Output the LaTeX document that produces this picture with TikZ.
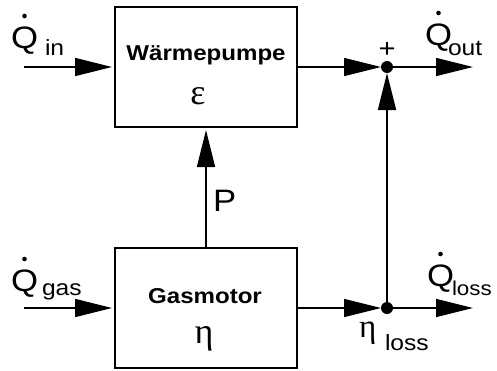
\documentclass[tikz,border=0pt]{standalone}
\usepackage{fontspec}
\setmainfont{Liberation Sans}[FakeStretch=1.12]
\newfontfamily\grk{Liberation Serif}
\usetikzlibrary{arrows.meta,calc}
\begin{document}
\begin{tikzpicture}[x=1pt,y=-1pt,
  every node/.style={inner sep=0pt, outer sep=0pt},
  box/.style={draw, line width=1.6pt, minimum width=182pt, minimum height=120pt},
  flow/.style={line width=1.6pt, -{Triangle[length=37pt,width=18pt]}},
  junc/.style={circle, fill, minimum size=12pt},
  big/.style={font=\fontsize{31}{33}\selectfont},
  sub/.style={font=\fontsize{22}{24}\selectfont},
  subsm/.style={font=\fontsize{20}{22}\selectfont},
  plussign/.style={font=\fontsize{26}{28}\selectfont},
  title/.style={font=\fontsize{21.5}{23}\selectfont\bfseries},
  greek/.style={font=\fontsize{36}{38}\selectfont\grk},
  greeksm/.style={font=\fontsize{33}{35}\selectfont\grk},
  qdot/.style={fill}
]
\useasboundingbox (0,0) rectangle (497,370);
% boxes
\node[box] (wp) at (206,67) {};
\node[box] (gm) at (206,308) {};
\node[title, anchor=base] (wpt) at (206,60) {Wärmepumpe};
\node[greek, anchor=base] (eps) at (198,104) {ε};
\node[title, anchor=base] (gmt) at (205,303) {Gasmotor};
\node[greek, anchor=base] (eta) at (204,343) {η};
% junctions
\node[junc] (j1) at (387,67) {};
\node[junc] (j2) at (387,308) {};
% free ends
\coordinate (in1) at (24,67);
\coordinate (in2) at (24,308);
\coordinate (o1) at (473,67);
\coordinate (o2) at (473,308);
% connectors
\draw[flow, shorten >=3pt] (in1) -- (wp.west);
\draw[flow, shorten >=3pt] (in2) -- (gm.west);
\draw[flow, shorten >=3pt] (gm.north) -- (wp.south);
\draw[flow] (wp.east) -- (j1);
\draw[flow] (gm.east) -- (j2);
\draw[flow] (j2) -- (j1);
\draw[flow] (j1) -- (o1);
\draw[flow] (j2) -- (o2);
% labels
\node[big, anchor=base west] (qin) at (11,48) {Q};
\node[sub, anchor=base west] (qins) at (45,55) {in};
\node[big, anchor=base west] (qgas) at (11,291) {Q};
\node[sub, anchor=base west] (qgass) at (42,295) {gas};
\node[big, anchor=base west] (qout) at (425,45) {Q};
\node[sub, anchor=base west] (qouts) at (448,55) {out};
\node[big, anchor=base west] (qloss) at (427,286) {Q};
\node[subsm, anchor=base west] (qlosss) at (452,295) {loss};
\fill[qdot] ($(qin.base)+(0,-32)$) circle (2.3);
\fill[qdot] ($(qgas.base)+(0,-32)$) circle (2.3);
\fill[qdot] ($(qout.base)+(0,-32)$) circle (2.3);
\fill[qdot] ($(qloss.base)+(0,-32)$) circle (2.3);
\node[big, anchor=base west] (plab) at (213,211) {P};
\node[plussign, anchor=center] (plus) at (387,50) {+};
\node[greeksm, anchor=base west] (etal) at (359,337) {η};
\node[sub, anchor=base west] (etals) at (385,350) {loss};
\end{tikzpicture}
\end{document}
